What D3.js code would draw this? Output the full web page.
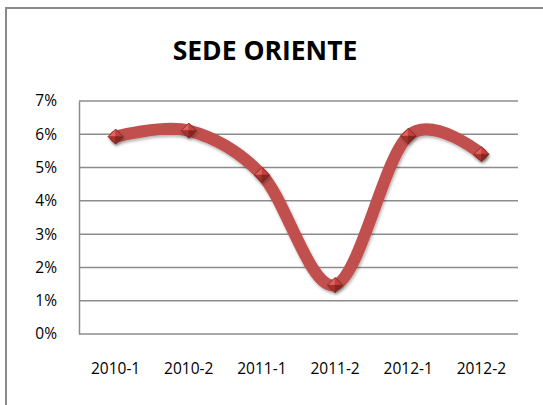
<!DOCTYPE html>
<html>
<head>
<meta charset="utf-8">
<script src="https://cdn.jsdelivr.net/npm/d3@7"></script>
<style>
  body { margin: 0; background: #fff; }
  svg { display: block; }
</style>
</head>
<body>
<script>
// datos del grafico
const periodos = ["2010-1", "2010-2", "2011-1", "2011-2", "2012-1", "2012-2"];
const valores = [0.0593, 0.0611, 0.0478, 0.0147, 0.0595, 0.054];
const ticksY = [0, 0.01, 0.02, 0.03, 0.04, 0.05, 0.06, 0.07];
const titulo = "SEDE ORIENTE";

const W = 543, H = 405;
const margin = { top: 101, right: 25, bottom: 71, left: 79 };
const width = W - margin.left - margin.right;
const height = H - margin.top - margin.bottom;
const fuente = "'Open Sans', 'Liberation Sans', sans-serif";

const svg = d3.select("body").append("svg")
    .attr("width", W)
    .attr("height", H);

const defs = svg.append("defs");
const sombra = defs.append("filter").attr("id", "sombra")
    .attr("x", "-50%").attr("y", "-50%").attr("width", "200%").attr("height", "200%");
sombra.append("feDropShadow")
    .attr("dx", 1).attr("dy", 2).attr("stdDeviation", 1.5)
    .attr("flood-color", "#000").attr("flood-opacity", 0.3);

// marco del grafico
svg.append("rect")
    .attr("x", 6).attr("y", 8)
    .attr("width", 600).attr("height", 450)
    .attr("fill", "#fff")
    .attr("stroke", "#8a8a8a")
    .attr("stroke-width", 2);

// titulo
svg.append("text")
    .attr("x", 265).attr("y", 60)
    .attr("text-anchor", "middle")
    .style("font-family", fuente)
    .style("font-weight", "bold")
    .style("font-size", "26.5px")
    .attr("fill", "#000")
    .text(titulo);

const g = svg.append("g")
    .attr("transform", "translate(" + margin.left + "," + margin.top + ")");

// escalas
const x = d3.scaleBand()
    .domain(periodos)
    .range([0, width]);
const y = d3.scaleLinear()
    .domain([0, 0.07])
    .range([height, 0]);

// lineas de cuadricula
g.append("g")
    .selectAll("line")
    .data(ticksY)
    .join("line")
        .attr("x1", 0).attr("x2", width)
        .attr("y1", d => y(d)).attr("y2", d => y(d))
        .attr("stroke", "#8c8c8c")
        .attr("stroke-width", 1.5);

// eje Y
const ejeY = g.append("g")
    .call(d3.axisLeft(y).tickValues(ticksY).tickFormat(d3.format(".0%")).tickSize(0));
ejeY.select(".domain").attr("stroke", "#8c8c8c").attr("stroke-width", 1.5);
ejeY.selectAll("text")
    .style("font-family", fuente)
    .style("font-size", "15.5px")
    .attr("fill", "#000")
    .attr("x", -22);

// eje X
const ejeX = g.append("g")
    .attr("transform", "translate(0," + height + ")")
    .call(d3.axisBottom(x).tickSize(0).tickPadding(29));
ejeX.select(".domain").remove();
ejeX.selectAll("text")
    .style("font-family", fuente)
    .style("font-size", "15.5px")
    .attr("fill", "#000");

// linea suavizada
const linea = d3.line()
    .x((d, i) => x(periodos[i]) + x.bandwidth() / 2)
    .y(d => y(d))
    .curve(d3.curveCatmullRom.alpha(0));

g.append("path")
    .datum(valores)
    .attr("fill", "none")
    .attr("stroke", "#c0504d")
    .attr("stroke-width", 12)
    .attr("stroke-linecap", "round")
    .attr("filter", "url(#sombra)")
    .attr("d", linea);

// marcadores (rombo facetado)
const r = 7.5;
const caras = [
    { p: [[0, 0], [-r, 0], [0, -r]], c: "#e3625e" },
    { p: [[0, 0], [0, -r], [r, 0]], c: "#c8413d" },
    { p: [[0, 0], [-r, 0], [0, r]], c: "#a9332f" },
    { p: [[0, 0], [r, 0], [0, r]], c: "#862624" }
];
const marcas = g.append("g")
    .selectAll("g")
    .data(valores)
    .join("g")
        .attr("transform", (d, i) => "translate(" + (x(periodos[i]) + x.bandwidth() / 2) + "," + y(d) + ")")
        .attr("filter", "url(#sombra)");
marcas.selectAll("path")
    .data(caras)
    .join("path")
        .attr("d", d => "M" + d.p.map(q => q.join(",")).join("L") + "Z")
        .attr("fill", d => d.c)
        .attr("stroke", d => d.c)
        .attr("stroke-width", 0.4);
marcas.append("path")
    .attr("d", "M" + (-r) + ",0L0," + (-r) + "L" + r + ",0L0," + r + "Z")
    .attr("fill", "none")
    .attr("stroke", "#6e1f1d")
    .attr("stroke-width", 0.7);
</script>
</body>
</html>
